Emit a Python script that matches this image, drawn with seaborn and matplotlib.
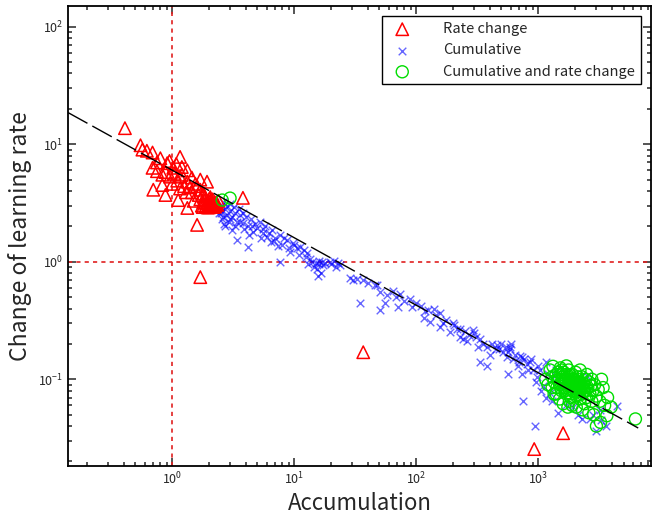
import numpy as np
import pandas as pd
import matplotlib
matplotlib.use("Agg")
import matplotlib.pyplot as plt
import seaborn as sns

# rate change points (red triangles)
rate_x = [0.41, 0.55, 0.57, 0.69, 0.80, 1.16, 0.91, 1.02, 0.69, 1.33, 0.75, 0.88, 1.05, 1.2, 1.7,
          1.16, 0.96, 0.83, 1.45, 1.55, 0.70, 0.83, 0.88, 1.16, 1.33, 1.12, 1.33, 1.6, 1.45, 1.7,
          1.93, 2.05, 3.8, 1.7, 1.8, 1.9, 2.0, 2.1, 2.2, 2.3, 2.05, 1.85, 1.95, 2.15, 2.25,
          1.75, 1.5, 1.0, 1.1, 1.25, 1.4, 0.62, 0.75, 0.95, 1.08, 1.2, 1.6, 1.8, 2.4, 1.3,
          2.0, 2.2, 1.9, 2.1, 2.35, 1.65, 1.78, 1.88, 1.98, 2.08, 2.18, 2.28, 1.83, 2.03, 2.23,
          1.7, 36.8, 927, 1600]
rate_y = [13.7, 9.8, 9.0, 8.5, 7.6, 7.8, 6.9, 6.3, 6.3, 6.0, 5.9, 5.8, 5.6, 5.5, 5.0,
          5.3, 5.3, 5.5, 5.2, 4.6, 4.1, 4.5, 3.7, 4.2, 4.8, 3.35, 2.87, 2.06, 3.9, 4.1,
          4.8, 3.55, 3.5, 3.4, 3.2, 3.0, 3.1, 2.95, 3.0, 3.2, 3.3, 3.6, 2.9, 3.4, 2.95,
          3.0, 3.3, 4.6, 4.9, 4.4, 4.3, 8.8, 7.0, 7.2, 6.8, 6.4, 4.4, 3.8, 3.3, 3.9,
          2.9, 3.1, 3.15, 3.25, 3.05, 3.7, 2.92, 2.98, 3.02, 3.08, 2.93, 3.12, 3.35, 3.45, 3.2,
          0.74, 0.17, 0.0255, 0.0348]

# cumulative points (blue crosses)
cum_x = [2.45, 2.5, 2.4, 2.5, 2.5, 2.6, 2.6, 2.7, 2.8, 2.8, 2.9, 3.0, 3.0, 3.1, 3.1, 3.2, 3.3, 3.4,
         3.4, 3.5, 3.6, 3.8, 3.8, 4.0, 4.2, 4.2, 4.4, 4.6, 4.8, 5.0, 5.2, 5.5, 5.8, 6.0, 6.4, 6.6,
         7.0, 7.7, 8.0, 8.8, 9.3, 9.8, 7.7, 10.5, 11.2, 12.0, 12.8, 13.5, 14.0, 15.0, 16.0, 17.0,
         18.0, 19.5, 21.0, 23.0, 15.4, 15.7, 16.5, 17.3, 23.7, 28.7, 30.4, 33, 36.7, 40, 46, 47.9,
         50.5, 34.8, 50.5, 55.6, 58, 64.6, 68, 73.8, 71, 80, 89, 93, 110, 118, 125, 130, 145, 157,
         157, 175, 189, 205, 215, 228, 240, 250, 270, 292, 310, 334, 350, 380, 334, 380, 420, 462,
         480, 518, 540, 590, 620, 560, 650, 700, 740, 810, 740, 900, 590, 560, 710, 860, 1040,
         1160, 980, 1100, 1250, 750, 940, 1460, 1910, 2300, 2640, 3000, 4430, 2500, 1000, 1200,
         1300, 950, 1050, 1150, 1300, 1400, 1700, 2100, 2800, 3300, 3600, 1600, 2000, 3200,
         2.55, 2.65, 2.45,
         2.7, 3.0, 3.3, 3.6, 3.9, 4.3, 4.5, 5.3, 5.6, 6.2, 6.8, 7.3, 8.3, 9.0, 10, 11, 12.5, 13,
         14.5, 16, 20, 22,
         100, 115, 140, 165, 200, 230, 260, 300, 320, 400, 450, 500, 550, 600, 680, 760, 830, 880]
cum_y = [2.9, 2.7, 2.6, 2.6, 2.9, 3.2, 2.4, 2.8, 3.0, 2.5, 2.2, 2.7, 3.1, 1.87, 2.4, 2.9, 2.6, 1.54,
         2.2, 2.8, 2.5, 2.14, 2.6, 2.4, 1.34, 2.0, 2.3, 1.8, 2.1, 1.94, 2.2, 1.75, 2.0, 1.63, 1.48, 1.85,
         1.6, 1.69, 1.4, 1.54, 1.2, 1.45, 1.0, 1.3, 1.34, 1.25, 1.19, 1.05, 1.0, 0.98, 1.02, 1.0,
         0.97, 1.0, 1.02, 0.98, 0.86, 0.75, 0.8, 0.94, 0.94, 0.73, 0.70, 0.72, 0.70, 0.66, 0.64, 0.64,
         0.55, 0.45, 0.39, 0.45, 0.52, 0.56, 0.50, 0.53, 0.41, 0.46, 0.48, 0.41, 0.42, 0.38, 0.39, 0.31, 0.35, 0.37,
         0.28, 0.32, 0.255, 0.29, 0.27, 0.23, 0.22, 0.26, 0.24, 0.265, 0.23, 0.22, 0.2, 0.19, 0.14, 0.13, 0.2, 0.197,
         0.18, 0.17, 0.19, 0.18, 0.15, 0.11, 0.16, 0.14, 0.156, 0.134, 0.11, 0.12, 0.19, 0.17, 0.157, 0.14, 0.12,
         0.14, 0.104, 0.087, 0.077, 0.065, 0.04, 0.052, 0.058, 0.046, 0.046, 0.036, 0.059, 0.106, 0.13, 0.11,
         0.1, 0.095, 0.08, 0.07, 0.065, 0.12, 0.06, 0.05, 0.05, 0.045, 0.04, 0.09, 0.1, 0.055,
         2.3, 2.1, 2.8,
         2.0, 2.3, 2.0, 2.2, 1.9, 1.7, 2.0, 1.6, 1.9, 1.75, 1.5, 1.35, 1.6, 1.3, 1.4, 1.15, 1.1, 0.95,
         0.9, 0.95, 0.95, 0.9,
         0.45, 0.33, 0.4, 0.3, 0.3, 0.27, 0.21, 0.25, 0.19, 0.16, 0.18, 0.2, 0.155, 0.2, 0.13, 0.15, 0.12, 0.15]

# cumulative and rate change points (green circles)
both_x = [2.57, 2.98, 1250, 1300, 1320, 1350, 1400, 1420, 1460, 1480, 1500, 1520, 1550, 1580, 1600,
          1620, 1650, 1680, 1700, 1720, 1750, 1780, 1800, 1820, 1850, 1880, 1900, 1920, 1950, 1980,
          2000, 2020, 2050, 2080, 2100, 2150, 2180, 2200, 2250, 2280, 2300, 2350, 2400, 2450, 2500,
          2550, 2600, 2650, 2700, 2750, 2800, 2900, 3000, 3100, 3200, 1400, 1500, 1600, 1750, 1900,
          2300, 2600, 3700, 3960, 3650, 3240, 6260, 3000, 2850, 1350, 1200, 1150, 1700, 2200, 2500,
          3300, 1800, 2050, 2400, 1300, 1550, 2750, 3400, 3500,
          1560, 1640, 1730, 1810, 1890, 1970, 2060, 2140, 2230, 2320, 1610, 1690, 1770, 1860, 1940,
          2030, 2120, 2210, 2420, 1530, 1660, 1790, 1930, 2070, 2190, 2360, 1450, 1580, 1840, 2110]
both_y = [3.35, 3.48, 0.12, 0.105, 0.129, 0.095, 0.11, 0.085, 0.115, 0.1, 0.09, 0.125, 0.08, 0.105, 0.095,
          0.115, 0.085, 0.1, 0.075, 0.11, 0.09, 0.12, 0.082, 0.1, 0.07, 0.095, 0.11, 0.085, 0.1, 0.078,
          0.09, 0.115, 0.072, 0.087, 0.1, 0.08, 0.095, 0.068, 0.088, 0.105, 0.075, 0.092, 0.08, 0.1, 0.07,
          0.085, 0.095, 0.075, 0.088, 0.065, 0.08, 0.09, 0.072, 0.082, 0.065, 0.075, 0.068, 0.062, 0.058, 0.06,
          0.055, 0.052, 0.07, 0.058, 0.049, 0.043, 0.046, 0.04, 0.05, 0.075, 0.09, 0.1, 0.13, 0.12, 0.11,
          0.1, 0.065, 0.058, 0.062, 0.085, 0.12, 0.1, 0.085, 0.06,
          0.098, 0.092, 0.088, 0.094, 0.086, 0.092, 0.083, 0.09, 0.081, 0.086, 0.105, 0.098, 0.104, 0.097, 0.093,
          0.097, 0.088, 0.092, 0.087, 0.084, 0.08, 0.077, 0.079, 0.078, 0.074, 0.079, 0.098, 0.11, 0.108, 0.105]

# power-law fit line end points
fit_x = [0.14, 6600]
fit_y = [18.6, 0.0385]

sns.set_style("ticks")
plt.rcParams['font.family'] = ['Noto Sans CJK JP', 'DejaVu Sans']
plt.rcParams['xtick.direction'] = 'in'
plt.rcParams['ytick.direction'] = 'in'

fig = plt.figure(figsize=(6.58, 5.26), dpi=100)
ax = fig.add_axes([68/658, 60/526, 583/658, 460/526])

ax.axvline(1, color='#e02020', linestyle=(0, (2.5, 2.5)), linewidth=1.2, zorder=1)
ax.axhline(1, color='#e02020', linestyle=(0, (2.5, 2.5)), linewidth=1.2, zorder=1)

sns.scatterplot(x=rate_x, y=rate_y, marker='^', s=80, facecolors='none', edgecolor='red',
                linewidth=1.1, label='Rate change', ax=ax, zorder=3.5)
sns.scatterplot(x=cum_x, y=cum_y, marker='x', s=30, color='blue', alpha=0.6,
                linewidth=1.0, label='Cumulative', ax=ax, zorder=3)
sns.scatterplot(x=both_x, y=both_y, marker='o', s=75, facecolors='none', edgecolor='#00dd00',
                linewidth=1.0, label='Cumulative and rate change', ax=ax, zorder=3.6)
sns.lineplot(x=fit_x, y=fit_y, color='black', linewidth=1.0, dashes=False, ax=ax, zorder=4)
ax.lines[-1].set_dashes((16, 4))

ax.set_xscale('log')
ax.set_yscale('log')
ax.set_xlim(0.14, 8400)
ax.set_ylim(0.0183, 150)

ax.set_xlabel('Accumulation', fontsize=16, labelpad=3)
ax.set_ylabel('Change of learning rate', fontsize=16.5, labelpad=4)
ax.tick_params(which='both', top=True, right=True, labelsize=9, width=1.1)
ax.tick_params(which='major', length=6)
ax.tick_params(which='minor', length=3)
for sp in ax.spines.values():
    sp.set_linewidth(1.3)
    sp.set_color('black')

leg = ax.legend(loc='upper right', fontsize=10.5, frameon=True, fancybox=False,
                framealpha=1, edgecolor='black', borderaxespad=0.7, handletextpad=1.8)
leg.get_frame().set_linewidth(1.0)

fig.savefig('out.png', dpi=100)
